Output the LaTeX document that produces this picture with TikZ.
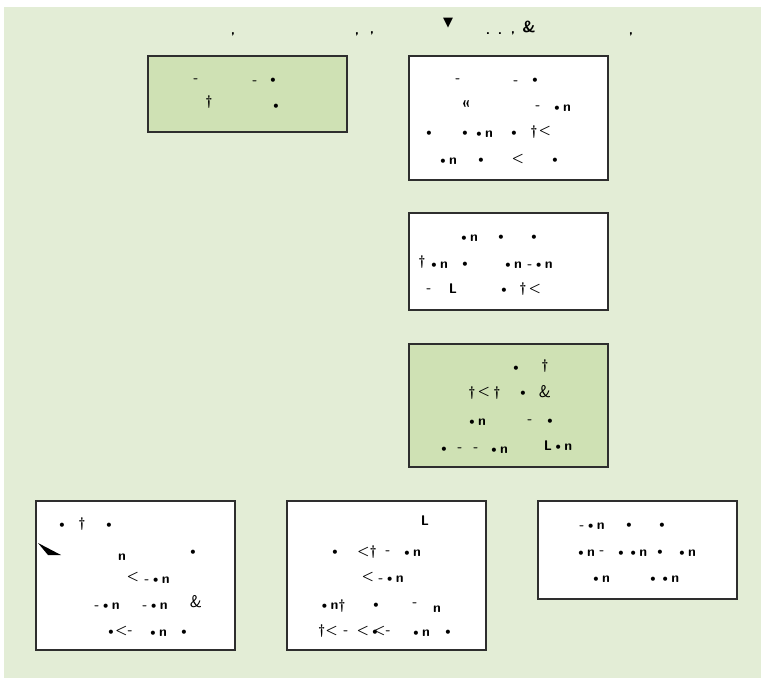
\documentclass[tikz,border=0pt]{standalone}
\usepackage{fontspec}
\newfontfamily\dejavu{DejaVu Sans}
\definecolor{bgGreen}{HTML}{E3EDD6}
\definecolor{boxGreen}{HTML}{CFE1B4}
\definecolor{edgeGray}{HTML}{2E2E2E}
\newcommand{\blob}{{\rmfamily\bfseries\textbullet}}
\begin{document}
\begin{tikzpicture}[x=1pt,y=-1pt,
  panel/.style={draw=edgeGray,line width=1.4pt},
  greenpanel/.style={panel,fill=boxGreen},
  whitepanel/.style={panel,fill=white},
  frag/.style={inner sep=0pt,font=\sffamily\bfseries\fontsize{14}{14}\selectfont,text=black}]
\useasboundingbox (0,0) rectangle (761,678);
\fill[bgGreen] (4,7) rectangle (761,678);
% panels
\draw[greenpanel] (148,56) rectangle (347,132);
\draw[whitepanel] (409,56) rectangle (608,180);
\draw[whitepanel] (409,213) rectangle (608,310);
\draw[greenpanel] (409,344) rectangle (608,467);
\draw[whitepanel] (36,501) rectangle (235,650);
\draw[whitepanel] (287,501) rectangle (486,650);
\draw[whitepanel] (538,501) rectangle (737,599);
% title fragments
\foreach \x/\y/\t [count=\i] in {
  233/34/{,},357/34/{,},372/33/{,},488/34/{.},500/34/{.},513/33/{,},631/34/{,}}
  {\node[frag] (t\i) at (\x,\y) {\t};}
\node[frag,font=\dejavu\fontsize{13}{13}\selectfont] (tri) at (448,23) {▼};
\node[frag,font=\sffamily\bfseries\fontsize{16}{16}\selectfont] (amp) at (529,27) {\&};
% fragments inside panels
\foreach \x/\y/\t [count=\i] in {
  % top-left green
  196/81/{-},255/83/{-},273/81/{\blob},209/102/{\dag},276/107/{\blob},
  % top-right
  458/81/{-},516/83/{-},535/81/{\blob},466/104/{<<},538/108/{-},561/108/{\blob n},
  429/134/{\blob},465/134/{\blob},483/134/{\blob n},514/134/{\blob},534/132/{\dag},545/131/{<},
  447/161/{\blob n},481/161/{\blob},518/159/{<},555/161/{\blob},
  % middle-right
  468/238/{\blob n},501/238/{\blob},534/238/{\blob},
  422/262/{\dag},438/265/{\blob n},465/265/{\blob},512/265/{\blob n},540/265/{-\blob n},
  429/291/{-},453/289/{L},504/291/{\blob},523/289/{\dag},535/289/{<},
  % green right
  516/369/{\blob},545/366/{\dag},
  472/393/{\dag},484/392/{<},497/393/{\dag},523/394/{\blob},
  476/422/{\blob n},530/422/{-},550/422/{\blob},
  444/450/{\blob},460/450/{-},476/450/{-},498/450/{\blob n},558/446/{L\blob n},
  % bottom-left
  62/526/{\blob},82/524/{\dag},109/526/{\blob},
  122/557/{n},193/553/{\blob},133/577/{<},157/580/{-\blob n},
  107/606/{-\blob n},155/606/{-\blob n},
  111/633/{\blob},124/631/{<-},157/633/{\blob n},184/633/{\blob},
  % bottom-middle
  425/521/{L},
  335/553/{\blob},367/552/{<\dag},388/553/{-},411/553/{\blob n},
  368/577/{<},391/579/{-\blob n},
  332/606/{\blob n\dag},376/606/{\blob},415/605/{-},437/609/{n},
  328/631/{\dag<},346/633/{-},363/631/{<},375/633/{\blob},382/631/{<-},420/633/{\blob n},448/633/{\blob},
  % bottom-right
  592/526/{-\blob n},629/526/{\blob},662/526/{\blob},
  585/553/{\blob n},602/553/{-},631/553/{\blob\blob n},660/553/{\blob},686/553/{\blob n},
  600/579/{\blob n},663/579/{\blob\blob n}}
  {\node[frag] (f\i) at (\x,\y) {\t};}
\node[frag,font=\sffamily\fontsize{17}{17}\selectfont] (amp2) at (545,392) {\&};
\node[frag,font=\sffamily\fontsize{17}{17}\selectfont] (amp3) at (196,602) {\&};
\fill[black] (38,543) -- (61,555) -- (48,555) -- cycle;
\end{tikzpicture}
\end{document}
